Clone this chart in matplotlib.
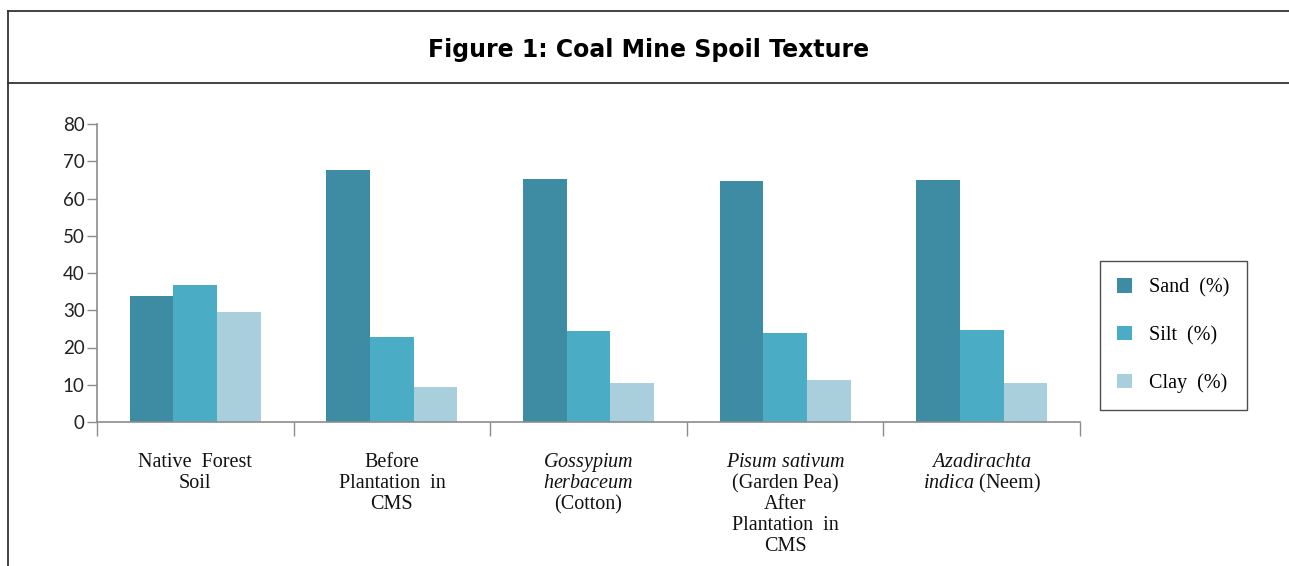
import numpy as np
import matplotlib
matplotlib.use("Agg")
import matplotlib.pyplot as plt
import matplotlib.transforms as mtransforms
from matplotlib.lines import Line2D
from matplotlib.patches import Patch

# ── Data ──────────────────────────────────────────────────────────────────────
# each category label is a list of lines (mathtext for the italic Latin names)
CATEGORIES = [
    ["Native  Forest", "Soil"],
    ["Before", "Plantation  in", "CMS"],
    ["$\\mathit{Gossypium}$", "$\\mathit{herbaceum}$", "(Cotton)"],
    ["$\\mathit{Pisum\\ sativum}$", "(Garden Pea)", "After", "Plantation  in", "CMS"],
    ["$\\mathit{Azadirachta}$", "$\\mathit{indica}$ (Neem)"],
]
SERIES = ["Sand  (%)", "Silt  (%)", "Clay  (%)"]
SAND = [33.8, 67.7, 65.2, 64.7, 65.0]
SILT = [36.8, 22.8, 24.4, 23.9, 24.7]
CLAY = [29.5, 9.4, 10.5, 11.3, 10.5]
Y_TICKS = list(range(0, 81, 10))

COLORS = ["#3d8ca3", "#4bacc6", "#a9cfdd"]
AXIS_GRAY = "#8c8c8c"

plt.rcParams["mathtext.fontset"] = "custom"
plt.rcParams["mathtext.rm"] = "Liberation Serif"
plt.rcParams["mathtext.it"] = "Liberation Serif:italic"

W, H = 1289, 566
fig = plt.figure(figsize=(W / 100, H / 100), dpi=100)


def fx(px): return px / W
def fy(py): return 1 - py / H


# ── Frame lines around the figure ─────────────────────────────────────────────
for xs, ys in [((8, W), (11, 11)), ((8, W), (83, 83)), ((8, 8), (11, H))]:
    fig.add_artist(Line2D([fx(xs[0]), fx(xs[1])], [fy(ys[0]), fy(ys[1])],
                          color="#333333", lw=1.3, transform=fig.transFigure))

fig.text(fx(649), fy(50), "Figure 1: Coal Mine Spoil Texture",
         ha="center", va="center", fontsize=17, fontweight="bold",
         family="DejaVu Sans")

# ── Bars ──────────────────────────────────────────────────────────────────────
ax = fig.add_axes([fx(97), fy(422), fx(1080) - fx(97), fy(124) - fy(422)])
x = np.arange(len(CATEGORIES))
bw = 0.222
for i, (vals, col, lab) in enumerate(zip([SAND, SILT, CLAY], COLORS, SERIES)):
    ax.bar(x + (i - 1) * bw, vals, width=bw, color=col, label=lab)

ax.set_xlim(-0.5, len(CATEGORIES) - 0.5)
ax.set_ylim(0, 80)
ax.set_yticks(Y_TICKS)
ax.set_yticklabels([str(t) for t in Y_TICKS], family="Lato", fontsize=13.5,
                   color="#222222")

ax.set_xticks(np.arange(len(CATEGORIES) + 1) - 0.5)
ax.set_xticklabels([])
ax.tick_params(axis="x", length=10, width=1, color=AXIS_GRAY, direction="out")
ax.tick_params(axis="y", length=7, width=1, color=AXIS_GRAY, direction="out",
               pad=2)

for s in ["top", "right"]:
    ax.spines[s].set_visible(False)
for s in ["left", "bottom"]:
    ax.spines[s].set_color(AXIS_GRAY)
    ax.spines[s].set_linewidth(1.2)

# category labels, one text per line so the spacing stays even
trans = mtransforms.blended_transform_factory(ax.transData, fig.transFigure)
for xi, lines in zip(x, CATEGORIES):
    for k, line in enumerate(lines):
        ax.text(xi, fy(467 + 21 * k), line, transform=trans, ha="center",
                va="baseline", family="Liberation Serif", fontsize=14.5,
                color="#111111")

# ── Legend ────────────────────────────────────────────────────────────────────
handles = [Patch(facecolor=c, edgecolor="none") for c in COLORS]
leg = fig.legend(handles, SERIES, loc="upper left",
                 bbox_to_anchor=(fx(1100), fy(261)), frameon=True,
                 fancybox=False, edgecolor="#222222", handlelength=0.75,
                 handleheight=0.75, handletextpad=0.85, labelspacing=1.4,
                 borderpad=0.85, borderaxespad=0,
                 prop={"family": "Liberation Serif", "size": 14.5})
leg.get_frame().set_linewidth(1.0)

fig.savefig("out.png", dpi=100)
